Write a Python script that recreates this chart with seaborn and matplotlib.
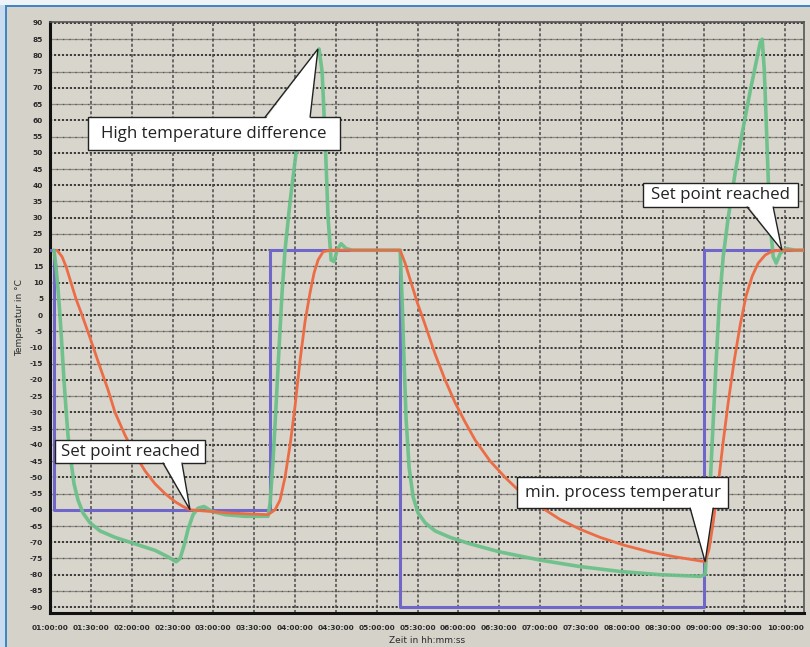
import matplotlib
matplotlib.use("Agg")
import matplotlib.pyplot as plt
from matplotlib.patches import Rectangle, Polygon
import pandas as pd
import seaborn as sns

# ---- data: time in hours, temperature in °C ----
setpoint_time = [1.00, 1.05, 1.05, 3.69, 3.69, 5.29, 5.29, 9.01, 9.01, 10.23]
setpoint_temp = [20, 20, -60, -60, 20, 20, -90, -90, 20, 20]

process_time = [1.086, 1.147, 1.196, 1.245, 1.318, 1.392, 1.490, 1.612, 1.710, 1.796,
                1.918, 2.041, 2.163, 2.286, 2.408, 2.531, 2.629, 2.714, 3.20, 3.669,
                3.755, 3.816, 3.877, 3.939, 4.000, 4.061, 4.122, 4.184, 4.233, 4.282,
                4.343, 4.429, 5.286,
                5.347, 5.408, 5.494, 5.592, 5.714, 5.837, 5.959, 6.082, 6.204, 6.388,
                6.571, 6.755, 7.000, 7.245, 7.490, 7.735, 8.041, 8.347, 8.653, 8.898,
                9.020, 9.069, 9.118, 9.180, 9.241, 9.302, 9.376, 9.449, 9.522, 9.596,
                9.669, 9.755, 9.841, 9.939, 10.23]
process_temp = [20, 18, 15, 11, 5, 0, -7, -16, -23, -30,
                -37, -43, -48, -52, -55, -57.5, -59, -60, -61, -61.5,
                -60, -57, -50, -40, -28, -14, -2, 7, 13, 17,
                19.5, 20, 20,
                16, 11, 4, -3, -12, -20, -27, -33, -38.5, -45,
                -50, -54.5, -59, -63, -66, -68.5, -71, -73, -74.5, -75.5,
                -76, -72, -64, -52, -39, -27, -14, -3, 6, 12,
                16, 18.5, 19.7, 20, 20]

jacket_time = [1.049, 1.073, 1.098, 1.122, 1.147, 1.171, 1.196, 1.220, 1.257, 1.294,
               1.343, 1.404, 1.490, 1.612, 1.796, 2.041, 2.286, 2.445, 2.543, 2.592,
               2.641, 2.690, 2.751, 2.812, 2.886, 2.984, 3.143, 3.388, 3.669,
               3.694, 3.730, 3.767, 3.804, 3.841, 3.877, 3.939, 4.012, 4.098, 4.184,
               4.257, 4.294, 4.331, 4.367, 4.404, 4.441, 4.478, 4.514, 4.563, 4.624,
               4.698, 5.286,
               5.310, 5.335, 5.359, 5.396, 5.445, 5.506, 5.592, 5.714, 5.898, 6.143,
               6.510, 7.000, 7.490, 7.980, 8.469, 8.959, 9.020,
               9.045, 9.082, 9.118, 9.155, 9.192, 9.241, 9.302, 9.388, 9.473, 9.571,
               9.645, 9.694, 9.718, 9.743, 9.767, 9.792, 9.816, 9.853, 9.890, 9.939,
               10.012, 10.12, 10.23]
jacket_temp = [20, 15, 8, 0, -10, -20, -29, -37, -45, -52,
               -57, -61, -64, -66.5, -68.5, -70.5, -72.5, -74.5, -76, -75,
               -71, -66, -61.5, -59.5, -59, -60.5, -61.5, -62, -62,
               -58, -45, -28, -10, 7, 20, 35, 50, 63, 73,
               80, 82, 75, 55, 30, 17, 16.5, 20, 22, 20.5,
               20, 20,
               5, -15, -32, -47, -56, -61, -64, -66.5, -68.5, -70.5,
               -73, -75.5, -77.5, -79, -80, -80.5, -80,
               -70, -52, -33, -14, 3, 18, 30, 44, 56, 69,
               78, 84, 85, 76, 60, 42, 28, 18, 16, 19,
               20.5, 20, 20]

x_tick_labels = ["01:00:00", "01:30:00", "02:00:00", "02:30:00", "03:00:00",
                 "03:30:00", "04:00:00", "04:30:00", "05:00:00", "05:30:00",
                 "06:00:00", "06:30:00", "07:00:00", "07:30:00", "08:00:00",
                 "08:30:00", "09:00:00", "09:30:00", "10:00:00"]
y_ticks = list(range(-90, 95, 5))

# ---- callouts: text, box (x0, x1, y0, y1), pointer base x-range, tip ----
callout_texts = ["High temperature difference", "Set point reached",
                 "min. process temperatur", "Set point reached"]
callout_boxes = [(1.465, 4.551, 50.9, 61.0), (1.061, 2.898, -45.6, -38.5),
                 (6.718, 9.302, -59.5, -49.9), (8.261, 10.159, 33.3, 40.7)]
callout_bases = [(3.633, 4.184, "top"), (2.384, 2.616, "bottom"),
                 (8.836, 9.118, "bottom"), (9.534, 9.853, "bottom")]
callout_tips = [(4.28, 82), (2.714, -60), (9.02, -76), (9.96, 20)]


def to_hours(label):
    h, m, s = (int(v) for v in label.split(":"))
    return h + m / 60 + s / 3600


sns.set_theme(style="white")
plt.rcParams["axes.unicode_minus"] = False
plt.rcParams["font.family"] = ["DejaVu Sans"]

BG = "#d5d2ca"
fig = plt.figure(figsize=(8.10, 6.47), dpi=100, facecolor=BG)
ax = fig.add_axes([50 / 810, 1 - 613 / 647, 754 / 810, (613 - 21.7) / 647])
ax.set_facecolor("#d8d5cd")

# window frame
fig.patches.append(Rectangle((0, 0), 5 / 810, 1, transform=fig.transFigure,
                             facecolor="#c9dcef", edgecolor="none", zorder=0))
fig.patches.append(Rectangle((5 / 810, 0), 2 / 810, 1 - 5 / 647, transform=fig.transFigure,
                             facecolor="#3f86c7", edgecolor="none", zorder=0))
fig.patches.append(Rectangle((0, 1 - 5 / 647), 1, 5 / 647, transform=fig.transFigure,
                             facecolor="#eef3f8", edgecolor="none", zorder=0))
fig.patches.append(Rectangle((5 / 810, 1 - 7 / 647), 1, 2 / 647, transform=fig.transFigure,
                             facecolor="#3f86c7", edgecolor="none", zorder=0))

# grid
for yv in y_ticks:
    if yv % 10 == 0:
        ax.axhline(yv, color="#2e2e2e", lw=1.3, ls=(0, (1.2, 1.0)), zorder=1)
    else:
        ax.axhline(yv, color="#8c8a85", lw=0.9, zorder=1)
        ax.axhline(yv, color="#555555", lw=0.9, ls=(0, (1, 4)), zorder=1)
for lab in x_tick_labels:
    ax.axvline(to_hours(lab), color="#4a4a4a", lw=1.1, ls=(0, (2.0, 1.4)), zorder=1)

# series
df_set = pd.DataFrame({"Zeit": setpoint_time, "Temperatur": setpoint_temp})
df_proc = pd.DataFrame({"Zeit": process_time, "Temperatur": process_temp})
df_jack = pd.DataFrame({"Zeit": jacket_time, "Temperatur": jacket_temp})

sns.lineplot(data=df_set, x="Zeit", y="Temperatur", sort=False, estimator=None,
             color="#6f66c9", lw=2.2, ax=ax, zorder=3)
sns.lineplot(data=df_jack, x="Zeit", y="Temperatur", sort=False, estimator=None,
             color="#6cc08a", lw=2.6, alpha=0.95, ax=ax, zorder=3,
             solid_joinstyle="round")
sns.lineplot(data=df_proc, x="Zeit", y="Temperatur", sort=False, estimator=None,
             color="#ec6d45", lw=2.0, ax=ax, zorder=4, solid_joinstyle="round")

# callouts
for text, (x0, x1, y0, y1), (bx0, bx1, side), (tx, ty) in zip(
        callout_texts, callout_boxes, callout_bases, callout_tips):
    ax.add_patch(Rectangle((x0, y0), x1 - x0, y1 - y0, facecolor="white",
                           edgecolor="#222222", lw=1.0, zorder=6))
    by = y1 if side == "top" else y0
    inner = by - 0.8 if side == "top" else by + 0.8
    ax.add_patch(Polygon([(bx0, inner), (bx1, inner), (tx, ty)], closed=True,
                         facecolor="white", edgecolor="none", zorder=7))
    ax.plot([bx0, tx, bx1], [by, ty, by], color="#222222", lw=1.0, zorder=8,
            solid_joinstyle="miter")
    ax.text((x0 + x1) / 2, (y0 + y1) / 2, text, family=["Open Sans", "DejaVu Sans"],
            fontsize=12.2, color="#222222", va="center", ha="center", zorder=9)

# axes
ax.set_xlim(1.0, 10.23)
ax.set_ylim(-91.8, 90.4)
ax.set_xticks([to_hours(l) for l in x_tick_labels])
ax.set_xticklabels(x_tick_labels, fontsize=5.3, fontweight="bold", color="#2a2a2a")
ax.set_yticks(y_ticks)
ax.set_yticklabels([str(v) for v in y_ticks], fontsize=5.3, fontweight="bold",
                   color="#2a2a2a")
ax.tick_params(axis="both", length=3, width=1, color="#222222", direction="out", pad=2)
ax.tick_params(axis="x", pad=6)
ax.set_xlabel("Zeit in hh:mm:ss", fontsize=6.5, color="#2a2a2a", labelpad=3)
ax.set_ylabel("Temperatur in °C", fontsize=6.5, color="#2a2a2a", labelpad=4)

for side in ("left", "bottom"):
    ax.spines[side].set_color("#111111")
    ax.spines[side].set_linewidth(2.2)
for side in ("top", "right"):
    ax.spines[side].set_color("#555555")
    ax.spines[side].set_linewidth(1.2)

fig.savefig("out.png", dpi=100, facecolor=BG)
